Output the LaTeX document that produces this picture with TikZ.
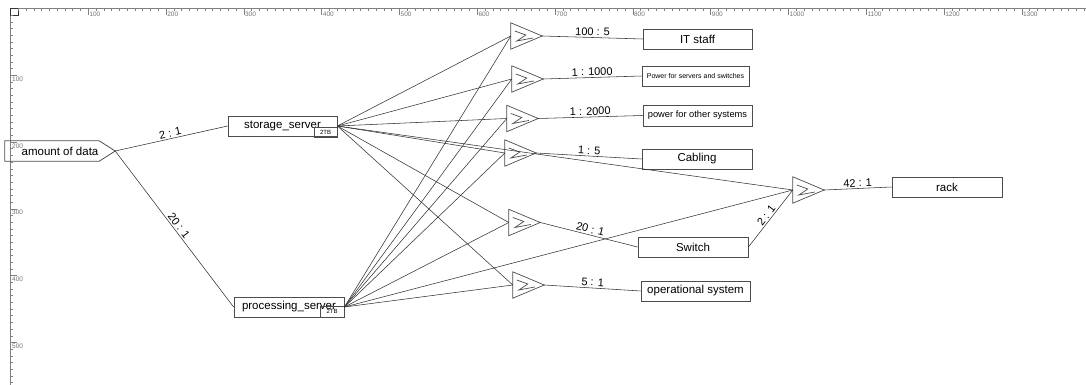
\documentclass[tikz,border=0pt]{standalone}
\usepackage{fontspec}
\setmainfont{Liberation Sans}
\usetikzlibrary{calc}
\begin{document}
\begin{tikzpicture}[x=1pt,y=-1pt,
  box/.style={draw=black!70, line width=0.8pt, inner sep=0pt, font=\fontsize{11.5}{13}\selectfont},
  tagbox/.style={draw=black!70, line width=0.7pt, inner sep=0pt, font=\fontsize{6}{7}\selectfont},
  sumnode/.style={minimum width=31pt, minimum height=26pt, inner sep=0pt},
  sumline/.style={draw=black!70, line width=0.7pt, line join=miter},
  conn/.style={draw=black!80, line width=0.55pt},
  lbl/.style={font=\fontsize{11}{12}\selectfont, sloped, above, inner sep=1.5pt},
  rul/.style={draw=black!50, line width=0.6pt},
  rullbl/.style={font=\fontsize{6.5}{7}\selectfont, text=black!55, inner sep=0pt}
]
\useasboundingbox (0,0) rectangle (1086,385);
% rulers
\draw[rul] (10.5,8.5) -- (1086,8.5);
\draw[rul] (10.5,8.5) -- (10.5,385);
\draw[draw=black!80, line width=0.7pt] (10.5,8.5) rectangle (18,15);
\foreach \k in {1,...,138} {\draw[rul] (10.5+7.78*\k,8.5) -- ++(0,2.5);}
\foreach \k in {1,...,56} {\draw[rul] (10.5,8.5+6.68*\k) -- ++(2.5,0);}
\foreach \v in {100,200,...,1300} {
  \draw[rul] (10.5+0.778*\v,8.5) -- ++(0,6.5);
  \node[rullbl, anchor=north west] (top\v) at (11.5+0.778*\v,11.5) {\v};
}
\foreach \v in {100,200,...,500} {
  \draw[rul] (10.5,8.5+0.668*\v) -- ++(6.5,0);
  \node[rullbl, anchor=north west] (left\v) at (12,9.8+0.668*\v) {\v};
}
% amount of data
\node[font=\fontsize{11.5}{13}\selectfont, minimum width=110pt, minimum height=20pt, inner sep=0pt] (amount) at (60,151) {amount of data};
\draw[draw=black!70, line width=0.8pt] (amount.north west) -- ([xshift=-16pt]amount.north east) -- (amount.east) -- ([xshift=-16pt]amount.south east) -- (amount.south west) -- cycle;
% servers
\node[box, minimum width=109pt, minimum height=20pt] (storage) at (282.5,126) {storage\_server};
\node[tagbox, minimum width=23pt, minimum height=10pt] (sto2tb) at (325.5,132) {2TB};
\node[box, minimum width=110pt, minimum height=20pt] (proc) at (289,307) {processing\_server};
\node[tagbox, minimum width=24pt, minimum height=11pt] (proc2tb) at (332,311.5) {2TB};
% sum nodes
\node[sumnode] (s1) at (526.5,36) {};
\node[sumnode] (s2) at (527.5,79) {};
\node[sumnode] (s3) at (522.5,118.5) {};
\node[sumnode] (s4) at (520.5,153) {};
\node[sumnode] (s5) at (524.5,222.5) {};
\node[sumnode] (s6) at (528.5,285) {};
\node[sumnode] (s7) at (808.5,190) {};
\foreach \s in {s1,s2,s3,s4,s5,s6,s7} {
  \draw[sumline] (\s.north west) -- (\s.east) -- (\s.south west) -- cycle;
  \draw[sumline] ($(\s.west)+(4,-5)$) -- ++(11,4) -- ++(-9,6) -- ++(16,-3);
}
% right boxes
\node[box, minimum width=109pt, minimum height=20pt] (it) at (697.5,39) {IT staff};
\node[box, minimum width=107pt, minimum height=20pt, font=\fontsize{7}{8}\selectfont] (pss) at (695.5,76) {Power for servers and switches};
\node[box, minimum width=109pt, minimum height=21pt, font=\fontsize{9.3}{11}\selectfont] (pos) at (697.5,115.5) {power for other systems};
\node[box, minimum width=110pt, minimum height=20pt] (cab) at (697,159) {Cabling};
\node[box, minimum width=110pt, minimum height=20pt] (sw) at (693,247) {Switch};
\node[box, minimum width=109pt, minimum height=20pt] (os) at (695.5,291) {operational system};
\node[box, minimum width=110pt, minimum height=20pt] (rack) at (947,187) {rack};
% connectors
\draw[conn] (amount.east) -- node[lbl] {2 : 1} (storage.west);
\draw[conn] (amount.east) -- node[lbl] {20 : 1} (proc.west);
\foreach \s in {s1,s2,s3,s4,s5,s6,s7} {
  \draw[conn] (storage.east) -- (\s.west);
  \draw[conn] (proc.east) -- (\s.west);
}
\draw[conn] (s1.east) -- node[lbl] {100 : 5} (it.west);
\draw[conn] (s2.east) -- node[lbl] {1 : 1000} (pss.west);
\draw[conn] (s3.east) -- node[lbl] {1 : 2000} (pos.west);
\draw[conn] (s4.east) -- node[lbl] {1 : 5} (cab.west);
\draw[conn] (s5.east) -- node[lbl] {20 : 1} (sw.west);
\draw[conn] (s6.east) -- node[lbl] {5 : 1} (os.west);
\draw[conn] (sw.east) -- node[lbl] {2 : 1} (s7.west);
\draw[conn] (s7.east) -- node[lbl] {42 : 1} (rack.west);
\end{tikzpicture}
\end{document}
